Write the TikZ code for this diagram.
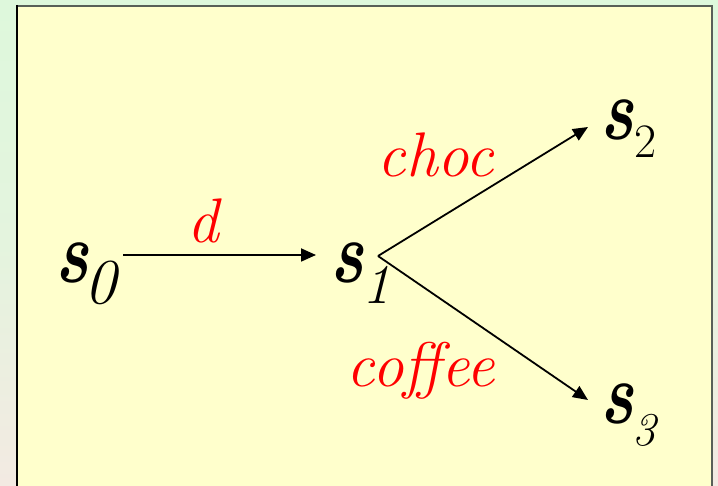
\documentclass[tikz,border=0pt]{standalone}
\usetikzlibrary{arrows.meta}
\usepackage{graphicx}
\definecolor{bgtop}{RGB}{222,248,220}
\definecolor{bgmid}{RGB}{228,244,222}
\definecolor{bgbot}{RGB}{243,234,226}
\definecolor{panel}{RGB}{255,255,204}
\definecolor{edge}{RGB}{88,96,88}
\definecolor{lblred}{RGB}{255,0,0}
\tikzset{
  state/.style={anchor=base west, inner sep=0pt, text=black},
  lbl/.style={anchor=base, inner sep=0pt, text=lblred, font=\fontsize{63}{65}\selectfont\itshape},
  trans/.style={line width=1.8pt, -{Triangle[length=15pt,width=13pt]}}
}
\newcommand{\stname}[4]{\scalebox{0.78}[1]{\fontsize{88}{90}\selectfont\bfseries\itshape s}\hspace{#4pt}\raisebox{-#2pt}{\fontsize{#3}{#3}\selectfont #1}}
\begin{document}
\begin{tikzpicture}[x=1pt,y=-1pt]
\useasboundingbox (0,0) rectangle (718,486);
\shade[top color=bgtop, bottom color=bgbot, middle color=bgmid] (0,0) rectangle (718,486);
\fill[panel] (16,6) rectangle (712,492);
\draw[edge, line width=1.6pt] (16,6) -- (712,6) -- (712,492);
\draw[black, line width=2pt] (16.5,5) -- (16.5,492);
% states
\node[state] (s0) at (55,283) {\stname{\itshape 0}{21}{64}{-4}};
\node[state] (s1) at (330,283) {\stname{\itshape 1}{21}{56}{-1}};
\node[state] (s2) at (600,140) {\stname{\upshape 2}{18}{48}{1}};
\node[state] (s3) at (600,424) {\stname{\itshape 3}{21}{47}{-1}};
% connector ends
\coordinate (s0out) at (123,255);
\coordinate (s1in) at (316,255);
\coordinate (s1out) at (378,256);
\coordinate (s2in) at (588,127);
\coordinate (s3in) at (588,400);
\draw[trans] (s0out) -- (s1in);
\draw[trans] (s1out) -- (s2in);
\draw[trans] (s1out) -- (s3in);
% labels
\node[lbl] (ld) at (203,243) {d};
\node[lbl] (lchoc) at (436,177) {choc};
\node[lbl] (lcoffee) at (421,387) {coffee};
\end{tikzpicture}
\end{document}
